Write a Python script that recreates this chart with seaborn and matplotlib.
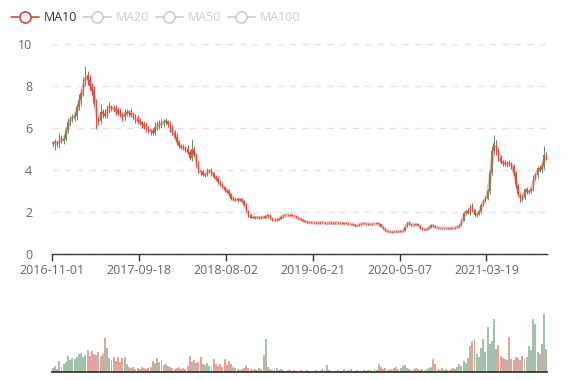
import matplotlib
matplotlib.use("Agg")
import matplotlib.pyplot as plt
from matplotlib.lines import Line2D
import seaborn as sns
import numpy as np
import pandas as pd

# x-axis labels (every 40 candles)
tick_labels = ["2016-11-01", "2017-09-18", "2018-08-02", "2019-06-21", "2020-05-07", "2021-03-19"]
legend_names = ["MA10", "MA20", "MA50", "MA100"]

first_open = 5.25
close = [
    5.30, 5.35, 5.20, 5.55, 5.40, 5.50, 5.90, 6.30, 6.45, 6.50,
    6.60, 7.00, 7.35, 7.70, 8.20, 8.55, 8.30, 8.00, 7.80, 7.20,
    6.40, 6.35, 6.80, 6.70, 6.60, 6.95, 7.05, 6.95, 6.90, 6.85,
    6.75, 6.65, 6.55, 6.70, 6.80, 6.75, 6.65, 6.55, 6.45, 6.35,
    6.30, 6.20, 6.10, 6.00, 5.90, 5.85, 5.80, 6.05, 6.20, 6.15,
    6.25, 6.30, 6.35, 6.20, 6.00, 5.80, 5.60, 5.35, 5.15, 5.10,
    5.05, 5.00, 4.85, 4.60, 5.00, 4.75, 4.30, 3.95, 3.90, 3.80,
    3.80, 3.95, 4.00, 3.85, 3.70, 3.60, 3.45, 3.30, 3.20, 3.05,
    3.00, 2.85, 2.65, 2.60, 2.62, 2.58, 2.62, 2.55, 2.35, 2.05,
    1.85, 1.75, 1.78, 1.74, 1.76, 1.72, 1.77, 1.75, 1.80, 1.88,
    1.70, 1.62, 1.63, 1.65, 1.70, 1.78, 1.85, 1.88, 1.86, 1.87,
    1.84, 1.80, 1.76, 1.70, 1.64, 1.58, 1.55, 1.52, 1.50, 1.51,
    1.49, 1.50, 1.48, 1.52, 1.50, 1.47, 1.49, 1.51, 1.48, 1.50,
    1.49, 1.48, 1.50, 1.47, 1.46, 1.47, 1.44, 1.43, 1.40, 1.36,
    1.38, 1.42, 1.46, 1.45, 1.44, 1.43, 1.42, 1.44, 1.45, 1.47,
    1.42, 1.32, 1.22, 1.12, 1.08, 1.05, 1.08, 1.06, 1.09, 1.07,
    1.10, 1.12, 1.30, 1.52, 1.45, 1.38, 1.40, 1.42, 1.38, 1.25,
    1.19, 1.18, 1.20, 1.28, 1.40, 1.33, 1.27, 1.25, 1.24, 1.26,
    1.23, 1.25, 1.22, 1.26, 1.24, 1.27, 1.30, 1.38, 1.60, 1.95,
    2.05, 1.95, 2.35, 2.10, 1.85, 1.90, 2.05, 2.35, 2.55, 2.65,
    3.00, 3.90, 4.90, 5.30, 4.95, 4.60, 4.40, 4.35, 4.30, 4.35,
    4.30, 4.20, 3.85, 3.30, 2.85, 2.60, 2.70, 3.10, 2.95, 3.00,
    3.10, 3.65, 3.80, 4.10, 4.00, 4.20, 4.75, 4.60,
]
# wick lengths, percent of body edge
up_wick_pct = [
    2, 3, 1, 4, 2, 3, 2, 3, 2, 3,
    3, 2, 4, 2, 3, 5, 2, 3, 2, 3,
    3, 2, 5, 2, 3, 2, 3, 1, 2, 3,
    2, 3, 2, 3, 2, 1, 3, 2, 2, 3,
    2, 1, 2, 3, 2, 1, 3, 4, 2, 3,
    3, 2, 2, 1, 2, 3, 2, 3, 2, 2,
    3, 2, 4, 2, 10, 3, 2, 3, 2, 3,
    2, 4, 2, 3, 2, 2, 3, 2, 3, 2,
    2, 3, 2, 3, 2, 2, 3, 2, 2, 3,
    2, 3, 2, 2, 4, 2, 3, 2, 3, 2,
    2, 1, 2, 2, 3, 2, 2, 1, 2, 2,
    1, 2, 1, 2, 1, 2, 1, 1, 2, 1,
    2, 1, 1, 2, 1, 3, 1, 2, 1, 1,
    1, 2, 1, 1, 2, 1, 2, 1, 1, 2,
    2, 1, 2, 1, 1, 2, 1, 2, 1, 2,
    2, 2, 1, 2, 1, 2, 1, 2, 2, 1,
    2, 3, 4, 2, 2, 1, 2, 2, 1, 2,
    1, 2, 2, 3, 2, 1, 2, 1, 2, 1,
    1, 2, 1, 2, 1, 2, 2, 3, 4, 3,
    3, 8, 2, 3, 2, 3, 4, 3, 3, 4,
    4, 3, 5, 7, 3, 2, 3, 2, 3, 2,
    3, 2, 2, 3, 2, 3, 6, 2, 3, 2,
    4, 3, 2, 3, 4, 3, 9, 3,
]
down_wick_pct = [
    3, 6, 2, 3, 2, 3, 2, 2, 3, 2,
    2, 3, 2, 3, 2, 2, 3, 2, 3, 2,
    7, 3, 2, 3, 2, 2, 3, 2, 2, 3,
    2, 2, 3, 2, 2, 3, 2, 2, 3, 2,
    2, 3, 2, 3, 2, 3, 2, 2, 2, 3,
    2, 3, 2, 2, 3, 2, 2, 3, 2, 2,
    2, 3, 2, 2, 3, 2, 3, 2, 3, 2,
    3, 2, 2, 3, 2, 2, 3, 2, 2, 3,
    2, 2, 3, 2, 2, 3, 2, 3, 2, 2,
    3, 2, 2, 3, 2, 2, 1, 2, 2, 3,
    2, 2, 1, 2, 2, 1, 2, 2, 1, 2,
    2, 1, 1, 2, 1, 1, 2, 1, 1, 2,
    1, 2, 1, 1, 2, 1, 1, 2, 1, 1,
    2, 1, 1, 2, 1, 1, 2, 1, 2, 2,
    1, 2, 1, 1, 2, 1, 1, 2, 1, 1,
    3, 2, 2, 3, 2, 1, 2, 1, 2, 2,
    1, 2, 2, 1, 3, 2, 1, 2, 2, 3,
    2, 1, 2, 1, 2, 3, 2, 2, 1, 2,
    2, 1, 2, 1, 2, 1, 2, 2, 3, 2,
    3, 2, 4, 3, 2, 3, 2, 3, 2, 3,
    3, 4, 3, 3, 4, 3, 2, 3, 2, 3,
    2, 3, 3, 4, 3, 4, 3, 2, 3, 2,
    3, 2, 3, 4, 2, 3, 3, 2,
]
volume = [
    4, 6, 3, 11, 5, 8, 10, 16, 12, 14,
    13, 15, 18, 19, 15, 17, 22, 16, 21, 18,
    17, 20, 16, 18, 34, 24, 14, 12, 15, 11,
    15, 10, 14, 15, 8, 5, 4, 5, 3, 4,
    3, 5, 4, 3, 4, 5, 11, 9, 14, 10,
    12, 7, 8, 6, 5, 4, 3, 4, 5, 3,
    4, 3, 6, 16, 10, 12, 9, 10, 15, 8,
    7, 9, 6, 5, 13, 8, 6, 8, 5, 13,
    7, 11, 8, 5, 4, 3, 2, 3, 4, 7,
    4, 3, 2, 3, 2, 4, 3, 17, 33, 5,
    3, 2, 3, 4, 2, 3, 2, 1, 2, 2,
    1, 2, 1, 1, 2, 1, 1, 2, 1, 1,
    1, 2, 1, 1, 3, 2, 7, 2, 1, 1,
    1, 2, 1, 1, 3, 1, 2, 3, 1, 1,
    2, 1, 1, 2, 1, 2, 2, 1, 3, 2,
    8, 5, 3, 4, 2, 3, 2, 4, 5, 3,
    4, 6, 7, 4, 3, 2, 3, 4, 3, 2,
    3, 2, 3, 4, 5, 13, 8, 3, 2, 4,
    2, 3, 2, 3, 4, 3, 5, 8, 6, 11,
    9, 14, 26, 31, 33, 18, 15, 24, 33, 20,
    45, 28, 31, 53, 23, 27, 16, 14, 13, 12,
    35, 13, 12, 15, 14, 12, 16, 13, 15, 26,
    22, 53, 48, 20, 18, 28, 58, 23,
]

UP = "#4e9a68"    # rising candles are green here
DOWN = "#dd4b39"  # falling candles are red
GREY = "#666666"

sns.set_theme(style="white")
plt.rcParams["font.family"] = ["Open Sans", "DejaVu Sans"]

n = len(close)
idx = np.arange(n)
c = np.array(close)
o = np.concatenate([[first_open], c[:-1]])
top = np.maximum(o, c)
bot = np.minimum(o, c)
hi = top * (1 + np.array(up_wick_pct) / 100)
lo = bot * (1 - np.array(down_wick_pct) / 100)
is_up = c >= o

df = pd.DataFrame({"idx": idx, "close": c, "vol": volume,
                   "dir": np.where(is_up, "up", "down")})
df["ma10"] = df["close"].rolling(2, min_periods=1).mean()

fig = plt.figure(figsize=(5.77, 3.8), dpi=100)
ax = fig.add_axes([0.0896, 0.3308, 0.859, 0.5526])
axv = fig.add_axes([0.0896, 0.021, 0.859, 0.158])

cols = np.where(is_up, UP, DOWN)
ax.vlines(idx, lo, hi, colors=cols, linewidth=0.7)
ax.bar(idx, np.maximum(top - bot, 0.02), bottom=bot, width=0.55, color=cols, linewidth=0)
sns.lineplot(data=df, x="idx", y="ma10", color="#e0554a", alpha=0.45, linewidth=2.4, ax=ax)

ax.set_xlim(-0.5, n - 0.5)
ax.set_ylim(0, 10)
ax.set_yticks(range(0, 11, 2))
ax.set_xticks([-0.5 + 40 * k for k in range(len(tick_labels))])
ax.set_xticklabels(tick_labels)
ax.set_xlabel("")
ax.set_ylabel("")
ax.grid(axis="y", color="#e0e0e0", linestyle=(0, (5, 5)), linewidth=0.9)
ax.set_axisbelow(True)
for s in ["top", "right", "left"]:
    ax.spines[s].set_visible(False)
ax.spines["bottom"].set_color("#333333")
ax.spines["bottom"].set_linewidth(1)
ax.tick_params(axis="x", colors="#333333", labelcolor=GREY, length=5, width=1,
               direction="out", bottom=True, labelsize=9, pad=2)
ax.tick_params(axis="y", left=False, labelcolor=GREY, labelsize=9, pad=8)

sns.barplot(data=df, x="idx", y="vol", hue="dir", palette={"up": UP, "down": DOWN},
            native_scale=True, dodge=False, width=0.9, alpha=0.55, linewidth=0,
            errorbar=None, legend=False, ax=axv)
axv.set_xlim(-0.5, n - 0.5)
axv.set_ylim(0, 60)
axv.set_xticks([])
axv.set_yticks([])
axv.set_xlabel("")
axv.set_ylabel("")
for s in ["top", "right", "left"]:
    axv.spines[s].set_visible(False)
axv.spines["bottom"].set_color("#333333")

leg_colors = ["#d9453a", "#cccccc", "#cccccc", "#cccccc"]
handles = [Line2D([0], [0], color=col, linewidth=1.2, marker="o", markersize=8,
                  markerfacecolor="white", markeredgecolor=col, markeredgewidth=1.2)
           for col in leg_colors]
leg = fig.legend(handles, legend_names, loc="upper left", bbox_to_anchor=(0.0, 1.0),
                 ncol=4, frameon=False, fontsize=9, handlelength=2.2,
                 handletextpad=0.4, columnspacing=0.5, borderpad=0.4)
for t, col in zip(leg.get_texts(), ["#333333", "#cccccc", "#cccccc", "#cccccc"]):
    t.set_color(col)

fig.savefig("out.png", dpi=100)
